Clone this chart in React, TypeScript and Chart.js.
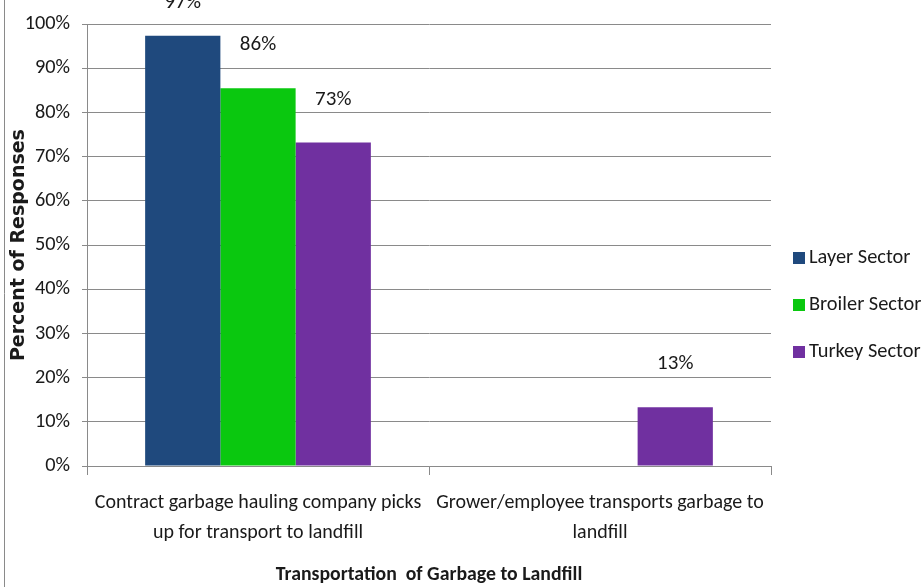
import React, { useEffect, useRef } from "react";
import { Chart, registerables } from "chart.js";

Chart.register(...registerables);

const categories: string[][] = [
  ["Contract garbage hauling company picks", "up for transport to landfill"],
  ["Grower/employee transports garbage to", "landfill"],
];
const seriesNames = ["Layer Sector", "Broiler Sector", "Turkey Sector"];
const layerValues: (number | null)[] = [97.4, null];
const broilerValues: (number | null)[] = [85.5, null];
const turkeyValues: (number | null)[] = [73.2, 13.3];
const seriesColors = ["#1F497D", "#0AC80F", "#7030A0"];
const yTicks = [0, 10, 20, 30, 40, 50, 60, 70, 80, 90, 100];

const FONT = "Carlito, Lato, sans-serif";
const TITLE_FONT = "'DejaVu Sans', 'Open Sans', sans-serif";
const TEXT = "#1a1a1a";

export default function App() {
  const ref = useRef<HTMLCanvasElement | null>(null);
  useEffect(() => {
    document.body.style.margin = "0";
    const canvas = ref.current;
    if (!canvas) return;

    const labelPlugin = {
      id: "valueLabels",
      afterDatasetsDraw(chart: any) {
        const ctx = chart.ctx;
        ctx.save();
        ctx.font = `21px ${FONT}`;
        ctx.fillStyle = TEXT;
        ctx.textAlign = "center";
        ctx.textBaseline = "middle";
        chart.data.datasets.forEach((ds: any, di: number) => {
          const meta = chart.getDatasetMeta(di);
          meta.data.forEach((bar: any, i: number) => {
            const v = ds.data[i];
            if (v === null || v === undefined) return;
            const y = Math.max(bar.y - 43, 3);
            ctx.fillText(`${Math.round(v)}%`, bar.x, y);
          });
        });
        ctx.restore();
      },
    };

    const legendPlugin = {
      id: "customLegend",
      afterDraw(chart: any) {
        const ctx = chart.ctx;
        ctx.save();
        ctx.font = `20.4px ${FONT}`;
        ctx.textBaseline = "middle";
        ctx.textAlign = "left";
        const x0 = chart.chartArea.right + 22;
        const startY = 258;
        seriesNames.forEach((name, i) => {
          const y = startY + i * 47;
          ctx.fillStyle = seriesColors[i];
          ctx.fillRect(x0, y - 6, 12, 12);
          ctx.fillStyle = TEXT;
          ctx.fillText(name, x0 + 16, y);
        });
        ctx.restore();
      },
    };

    const borderPlugin = {
      id: "leftBorder",
      beforeDraw(chart: any) {
        const ctx = chart.ctx;
        ctx.save();
        ctx.strokeStyle = "#8a8a8a";
        ctx.lineWidth = 1;
        ctx.beginPath();
        ctx.moveTo(4.5, 0);
        ctx.lineTo(4.5, chart.height);
        ctx.stroke();
        ctx.restore();
      },
    };

    const chart = new Chart(canvas, {
      type: "bar",
      data: {
        labels: categories,
        datasets: [
          { label: seriesNames[0], data: layerValues, backgroundColor: seriesColors[0] },
          { label: seriesNames[1], data: broilerValues, backgroundColor: seriesColors[1] },
          { label: seriesNames[2], data: turkeyValues, backgroundColor: seriesColors[2] },
        ],
      },
      options: {
        animation: false,
        responsive: false,
        maintainAspectRatio: false,
        layout: { padding: { top: 19, right: 152, left: 0, bottom: 0 } },
        datasets: { bar: { categoryPercentage: 0.66, barPercentage: 1 } },
        plugins: {
          legend: { display: false },
          tooltip: { enabled: false },
        },
        scales: {
          x: {
            afterFit(scale: any) {
              scale.height = 121;
            },
            grid: {
              offset: true,
              drawOnChartArea: false,
              drawTicks: true,
              tickLength: 9,
              color: "#8a8a8a",
            },
            border: { color: "#8a8a8a" },
            ticks: {
              color: TEXT,
              font: { family: FONT, size: 20, lineHeight: 1.5 },
              maxRotation: 0,
              autoSkip: false,
              padding: 13,
            },
            title: {
              display: true,
              text: "Transportation  of Garbage to Landfill",
              color: TEXT,
              font: { family: FONT, size: 19.8, weight: "bold" },
              padding: { top: 2, bottom: 0 },
            },
          },
          y: {
            min: 0,
            max: 100,
            afterFit(scale: any) {
              scale.width = 87;
            },
            afterBuildTicks(scale: any) {
              scale.ticks = yTicks.map((v) => ({ value: v }));
            },
            grid: {
              color: "#8a8a8a",
              tickLength: 5,
            },
            border: { color: "#8a8a8a" },
            ticks: {
              color: TEXT,
              font: { family: FONT, size: 20.3 },
              padding: 12,
              callback: (v: any) => `${v}%`,
            },
            title: {
              display: true,
              text: "Percent of Responses",
              color: TEXT,
              font: { family: TITLE_FONT, size: 19, weight: "bold" },
              padding: { top: 8, bottom: 0 },
            },
          },
        },
      },
      plugins: [borderPlugin, labelPlugin, legendPlugin],
    });
    return () => chart.destroy();
  }, []);

  return (
    <div style={{ width: 923, height: 587, background: "#fff" }}>
      <canvas ref={ref} width={923} height={587} style={{ width: 923, height: 587, display: "block" }} />
    </div>
  );
}
